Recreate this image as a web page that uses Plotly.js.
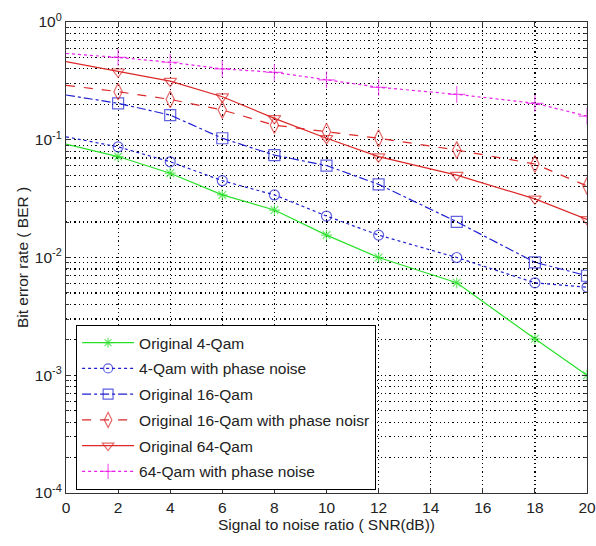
<!DOCTYPE html>
<html>
<head>
<meta charset="utf-8">
<script src="https://cdn.plot.ly/plotly-3.0.1.min.js"></script>
<style>html,body{margin:0;padding:0;background:#fff;}#chart{width:596px;height:546px;}</style>
</head>
<body>
<div id="chart"></div>
<script>
const snr = [0, 2, 4, 6, 8, 10, 12, 15, 18, 20];
const qam4 = [0.092, 0.072, 0.052, 0.034, 0.0253, 0.0155, 0.0100, 0.0061, 0.00204, 0.00100];
const qam4Phase = [0.106, 0.087, 0.065, 0.0449, 0.034, 0.0225, 0.0155, 0.0100, 0.0061, 0.0056];
const qam16 = [0.240, 0.204, 0.162, 0.103, 0.074, 0.0604, 0.0418, 0.0201, 0.0091, 0.0070];
const qam16Phase = [0.290, 0.256, 0.220, 0.179, 0.133, 0.117, 0.103, 0.0818, 0.0622, 0.0405];
const qam64 = [0.460, 0.378, 0.315, 0.232, 0.152, 0.103, 0.0718, 0.0500, 0.0315, 0.0211];
const qam64Phase = [0.540, 0.500, 0.455, 0.400, 0.374, 0.322, 0.279, 0.243, 0.204, 0.159];
const seriesNames = ['Original 4-Qam', '4-Qam with phase noise', 'Original 16-Qam',
  'Original 16-Qam with phase noisr', 'Original 64-Qam', '64-Qam with phase noise'];
const yTickVals = [1e-4, 1e-3, 1e-2, 1e-1, 1];
const yTickText = ['10<sup>-4</sup>', '10<sup>-3</sup>', '10<sup>-2</sup>', '10<sup>-1</sup>', '10<sup>0</sup>'];

const FONT = '"Liberation Sans", Arial, sans-serif';
const FS = 15.5;
const minorVals = [];
for (let d = -4; d < 0; d++) for (let k = 2; k <= 9; k++) minorVals.push(k * Math.pow(10, d));

const styles = [
  {color: 'rgb(40,225,40)', dash: 'solid', symbol: 'asterisk-open', size: 9},
  {color: 'rgb(30,30,210)', dash: 'dot', symbol: 'circle-open', size: 10},
  {color: 'rgb(30,30,210)', dash: 'dashdot', symbol: 'square-open', size: 11},
  {color: 'rgb(220,40,40)', dash: 'dash', symbol: 'diamond-tall-open', size: 12},
  {color: 'rgb(220,40,40)', dash: 'solid', symbol: 'triangle-down-open', size: 11},
  {color: 'rgb(235,30,235)', dash: 'dot', symbol: 'cross-thin-open', size: 12}
];
const ys = [qam4, qam4Phase, qam16, qam16Phase, qam64, qam64Phase];

const traces = ys.map((y, i) => ({
  x: snr, y: y, name: seriesNames[i], legendgroup: 'g' + i,
  type: 'scatter', mode: 'lines+markers',
  line: {color: styles[i].color, dash: styles[i].dash, width: 1.2},
  marker: {symbol: styles[i].symbol, color: styles[i].color,
    size: snr.map(v => v === 0 ? 0 : styles[i].size),
    line: {color: styles[i].color, width: 1.2}}
}));

const gridStyle = {gridcolor: '#000', griddash: '1.2px,3px', gridwidth: 1.2};

const layout = {
  width: 596, height: 546,
  margin: {l: 66, r: 9, t: 22, b: 53},
  paper_bgcolor: '#fff', plot_bgcolor: '#fff',
  font: {family: FONT, size: FS, color: '#222'},
  showlegend: true,
  legend: {x: 0.019, y: 0.357, xanchor: 'left', yanchor: 'top',
    bordercolor: '#000', borderwidth: 1.2, bgcolor: '#fff', traceorder: 'grouped',
    font: {family: FONT, size: FS, color: '#222'}, itemwidth: 52, tracegroupgap: 2.6},
  xaxis: Object.assign({
    range: [0, 20], dtick: 2, tick0: 0, ticks: 'inside', ticklen: 5, tickcolor: '#333',
    showline: true, linecolor: '#333', linewidth: 1.2, mirror: 'ticks',
    showgrid: true, zeroline: false, ticklabeloverflow: 'allow',
    tickfont: {family: FONT, size: FS, color: '#222'},
    title: {text: 'Signal to noise ratio ( SNR(dB))', font: {family: FONT, size: FS, color: '#222'}, standoff: 3}
  }, gridStyle),
  yaxis: Object.assign({
    type: 'log', range: [-4, 0], tickmode: 'array', tickvals: yTickVals, ticktext: yTickText,
    ticks: 'inside', ticklen: 5, tickcolor: '#333',
    showline: true, linecolor: '#333', linewidth: 1.2, mirror: 'ticks',
    showgrid: true, zeroline: false,
    tickfont: {family: FONT, size: FS, color: '#222'},
    minor: Object.assign({tickmode: 'array', tickvals: minorVals, ticks: 'inside', ticklen: 3, tickcolor: '#333',
      showgrid: true}, gridStyle),
    title: {text: 'Bit error rate ( BER )', font: {family: FONT, size: FS, color: '#222'}, standoff: 2}
  }, gridStyle)
};

Plotly.newPlot('chart', traces, layout, {displayModeBar: false, staticPlot: true});
</script>
</body>
</html>
